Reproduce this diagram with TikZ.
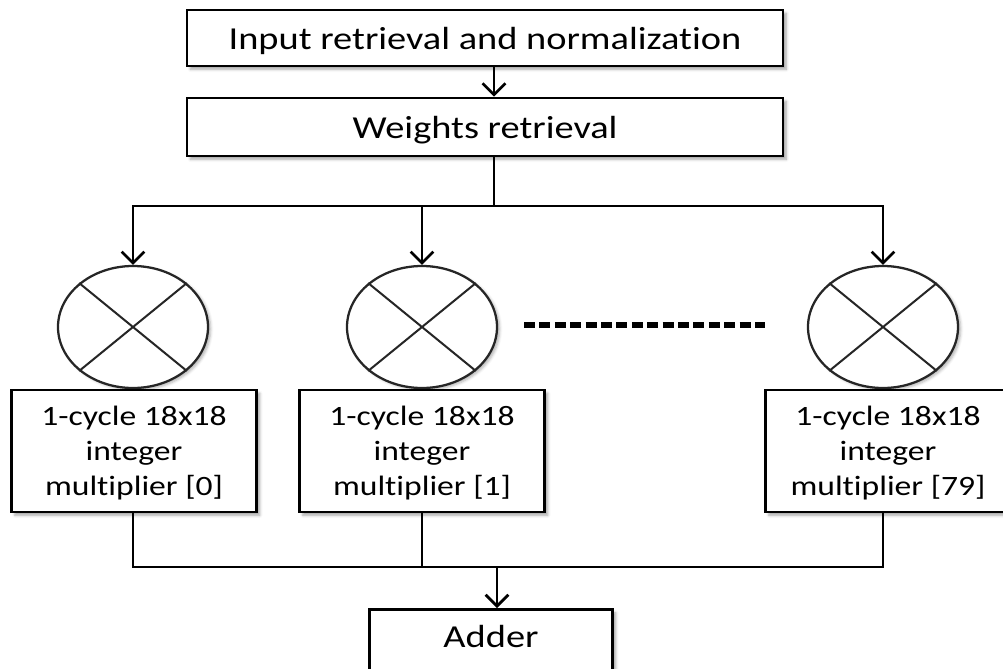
\documentclass[tikz,border=0pt]{standalone}
\usepackage{fontspec}
\setmainfont{Carlito}[FakeStretch=1.2, Ligatures=CommonOff]
\usetikzlibrary{shapes.geometric,arrows.meta,shadows.blur}

\begin{document}
\begin{tikzpicture}[x=0.75pt, y=-0.75pt]
        \tikzstyle{every node}=[inner sep=0pt]
        \tikzstyle{stage}=[draw, line width=2.2pt, fill=white, minimum width=447pt, minimum height=42pt, text depth=0pt, font=\fontsize{24}{29}\selectfont, blur shadow={shadow xshift=2.5pt, shadow yshift=-2.5pt, shadow blur radius=2pt, shadow opacity=35}]
        \tikzstyle{mulbox}=[stage, minimum width=183.75pt, minimum height=91.5pt, align=center, font=\fontsize{21}{26.25}\selectfont]
        \tikzstyle{mult}=[ellipse, draw=black!85, line width=1.7pt, fill=white, minimum width=112.5pt, minimum height=91.5pt, blur shadow={shadow xshift=2pt, shadow yshift=-1.5pt, shadow blur radius=2pt, shadow opacity=30}]
        \tikzstyle{wire}=[line width=2.1pt]
        \tikzstyle{arr}=[wire, -{Straight Barb[length=8.5pt, width=17pt, line width=2pt]}]
        \useasboundingbox (0,0) rectangle (1003,668);
        \clip (0,0) rectangle (1003,668);
        \coordinate (bus1) at (494,206);
        \coordinate (bus2) at (497,567);
        \node [stage] (inp) at (485,38) {Input retrieval and normalization};
        \node [stage, minimum height=43.5pt] (wts) at (485,127) {Weights retrieval};
        \node [mult] (m1) at (133,327) {};
        \node [mult] (m2) at (422,327) {};
        \node [mult] (m3) at (883,327) {};
        \foreach \m in {m1,m2,m3}
            \draw [black!85, line width=1.5pt] (\m.north west) -- (\m.south east) (\m.north east) -- (\m.south west);
        \draw [line width=5pt, dash pattern=on 8.25pt off 3.3pt] (524,325) -- (765,325);
        \node [mulbox] (b1) at (134,451) {1-cycle 18x18\\integer\\multiplier [0]};
        \node [mulbox] (b2) at (422,451) {1-cycle 18x18\\integer\\multiplier [1]};
        \node [mulbox] (b3) at (888,451) {1-cycle 18x18\\integer\\multiplier [79]};
        \node [stage, anchor=north, minimum width=182.25pt, minimum height=0pt, text height=28.5pt, text depth=45pt] (add) at (491,608) {Adder};
        \draw [arr] (inp.south -| bus1) -- (wts.north -| bus1);
        \draw [wire] (wts.south -| bus1) -- (bus1);
        \draw [wire, line cap=rect] (m1.north |- bus1) -- (m3.north |- bus1);
        \foreach \m in {m1,m2,m3}
            \draw [arr] (\m.north |- bus1) -- (\m.north);
        \draw [wire] (b1.south -| m1) -- (m1 |- bus2);
        \draw [wire] (b2.south -| m2) -- (m2 |- bus2);
        \draw [wire] (b3.south -| m3) -- (m3 |- bus2);
        \draw [wire, line cap=rect] (m1 |- bus2) -- (m3 |- bus2);
        \draw [arr] (bus2) -- (add.north -| bus2);
    \end{tikzpicture}
\end{document}
